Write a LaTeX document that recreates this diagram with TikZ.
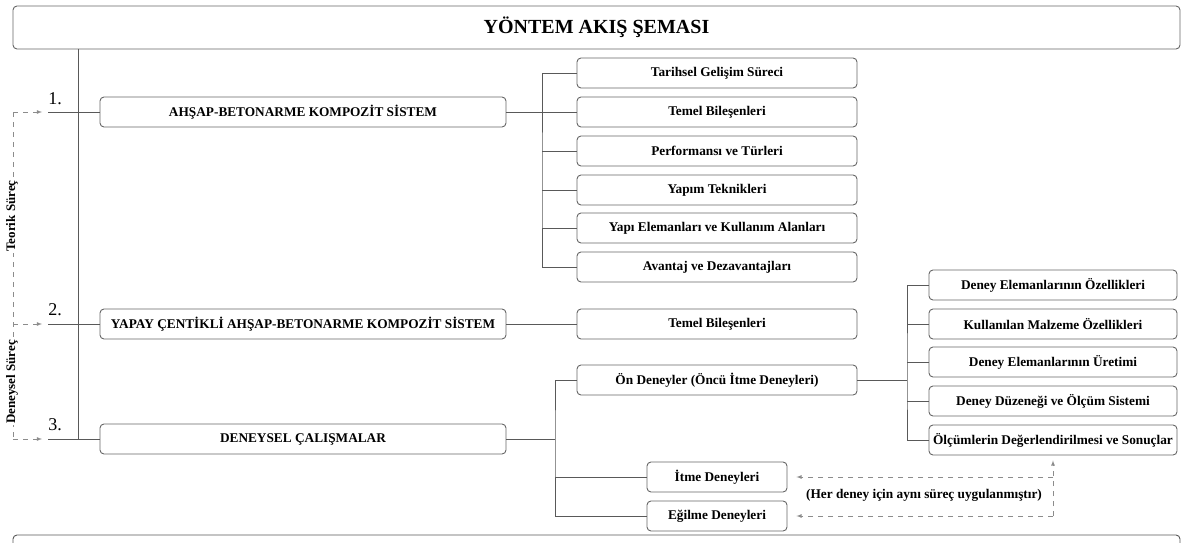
\documentclass[tikz,border=0pt]{standalone}
\usepackage{fontspec}
\setmainfont{Liberation Serif}
\usetikzlibrary{arrows}

\begin{document}
\begin{tikzpicture}[x=1pt,y=-1pt,
    kutu/.style={draw=black!60, line width=0.9pt, rounded corners=4pt, minimum height=30pt, inner sep=0pt, font=\bfseries\fontsize{13.3}{15}\selectfont},
    cizgi/.style={draw=black!65, line width=0.9pt},
    kesik/.style={draw=black!45, line width=0.8pt, dash pattern=on 5pt off 5pt},
    numara/.style={font=\fontsize{18}{20}\selectfont},
    yan/.style={fill=white, rotate=90, inner sep=1pt, font=\bfseries\fontsize{13}{14}\selectfont}]
    \useasboundingbox (0,0) rectangle (1187,543);

    \draw (596.5,27.5) node[kutu, minimum width=1167pt, minimum height=43pt, font=\bfseries\fontsize{20}{22}\selectfont] (yontem) {YÖNTEM AKIŞ ŞEMASI};

    \draw (303,112) node[kutu, minimum width=406pt] (sistem1) {AHŞAP-BETONARME KOMPOZİT SİSTEM};
    \draw (303,324) node[kutu, minimum width=406pt] (sistem2) {YAPAY ÇENTİKLİ AHŞAP-BETONARME KOMPOZİT SİSTEM};
    \draw (303,439) node[kutu, minimum width=406pt] (deneysel) {DENEYSEL ÇALIŞMALAR};

    \draw (55,99) node[numara] (no1) {1.};
    \draw (55,310) node[numara] (no2) {2.};
    \draw (55,425) node[numara] (no3) {3.};

      \draw (717,73) node[kutu, minimum width=280pt] (tarihsel) {Tarihsel Gelişim Süreci};
      \draw (717,112) node[kutu, minimum width=280pt] (temel1) {Temel Bileşenleri};
      \draw (717,151) node[kutu, minimum width=280pt] (performans) {Performansı ve Türleri};
      \draw (717,190) node[kutu, minimum width=280pt] (yapim) {Yapım Teknikleri};
      \draw (717,228) node[kutu, minimum width=280pt] (eleman) {Yapı Elemanları ve Kullanım Alanları};
      \draw (717,267) node[kutu, minimum width=280pt] (avantaj) {Avantaj ve Dezavantajları};

      \draw (717,324) node[kutu, minimum width=280pt] (temel2) {Temel Bileşenleri};

      \draw (717,380) node[kutu, minimum width=280pt] (ondeney) {Ön Deneyler (Öncü İtme Deneyleri)};
      \draw (717,477) node[kutu, minimum width=140pt] (itme) {İtme Deneyleri};
      \draw (717,516) node[kutu, minimum width=140pt] (egilme) {Eğilme Deneyleri};

   \draw (1053,285) node[kutu, minimum width=248pt] (ozellik1) {Deney Elemanlarının Özellikleri};
   \draw (1053,324) node[kutu, minimum width=248pt] (ozellik2) {Kullanılan Malzeme Özellikleri};
   \draw (1053,362) node[kutu, minimum width=248pt] (ozellik3) {Deney Elemanlarının Üretimi};
   \draw (1053,401) node[kutu, minimum width=248pt] (ozellik4) {Deney Düzeneği ve Ölçüm Sistemi};
   \draw (1053,440) node[kutu, minimum width=248pt] (ozellik5) {Ölçümlerin Değerlendirilmesi ve Sonuçlar};

   \draw (924,495) node[font=\bfseries\fontsize{13.3}{15}\selectfont] (aciklama) {(Her deney için aynı süreç uygulanmıştır)};

   % govde ve kollar
   \coordinate (ust) at (78,49);
   \coordinate (alt) at (78,439);
   \coordinate (bas1) at (48,112);
   \coordinate (bas2) at (48,324);
   \coordinate (bas3) at (48,439);
   \coordinate (kol1) at (542,190);
   \coordinate (kol3) at (555,439);
   \coordinate (kol4) at (907,380);

   \path[cizgi] (ust) edge (alt);
   \path[cizgi] (bas1) edge (sistem1);
   \path[cizgi] (bas2) edge (sistem2);
   \path[cizgi] (bas3) edge (deneysel);

   \path[cizgi] (sistem1) edge (temel1);
   \draw[cizgi] (tarihsel.west) -| (kol1) |- (avantaj.west);
   \draw[cizgi] (performans.west) -- (performans.west -| kol1);
   \draw[cizgi] (yapim.west) -- (yapim.west -| kol1);
   \draw[cizgi] (eleman.west) -- (eleman.west -| kol1);

   \path[cizgi] (sistem2) edge (temel2);

   \path[cizgi] (deneysel) edge (kol3);
   \draw[cizgi] (ondeney.west) -| (kol3) |- (egilme.west);
   \draw[cizgi] (itme.west) -- (itme.west -| kol3);

   \path[cizgi] (ondeney) edge (kol4);
   \draw[cizgi] (ozellik1.west) -| (kol4) |- (ozellik5.west);
   \draw[cizgi] (ozellik2.west) -- (ozellik2.west -| kol4);
   \draw[cizgi] (ozellik3.west) -- (ozellik3.west -| kol4);
   \draw[cizgi] (ozellik4.west) -- (ozellik4.west -| kol4);

   % kesikli oklar
   \coordinate (sol1) at (13,112);
   \coordinate (sol2) at (13,324);
   \coordinate (sol3) at (13,439);
   \coordinate (uc1) at (42,112);
   \coordinate (uc2) at (42,324);
   \coordinate (uc3) at (42,439);
   \coordinate (don1) at (1053,477);
   \coordinate (don2) at (1053,516);

   \draw[kesik] (sol1) -- (sol3);
   \draw[kesik,-latex] (sol1) -- (uc1);
   \draw[kesik,-latex] (sol2) -- (uc2);
   \draw[kesik,-latex] (sol3) -- (uc3);
   \draw (12,216) node[yan] (teorik) {Teorik Süreç};
   \draw (12,382) node[yan] (deneysurec) {Deneysel Süreç};

   \draw[kesik,-latex,shorten >=5pt] (don2) -- (ozellik5);
   \draw[kesik,-latex,shorten >=9pt] (don1) -- (itme);
   \draw[kesik,-latex,shorten >=9pt] (don2) -- (egilme);

   \draw[cizgi, rounded corners=4pt] (13,535) rectangle (1180,575);
\end{tikzpicture}
\end{document}
